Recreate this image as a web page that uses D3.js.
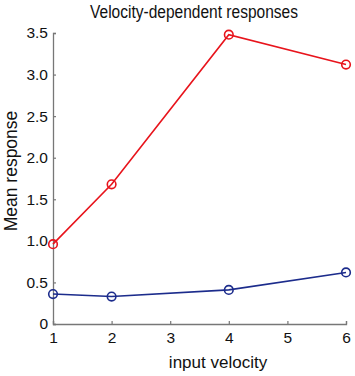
<!DOCTYPE html>
<html>
<head>
<meta charset="utf-8">
<script src="https://cdn.jsdelivr.net/npm/d3@7"></script>
<style>
  body { margin: 0; background: #fff; }
  text { font-family: "Liberation Sans", Arial, sans-serif; fill: #111; }
</style>
</head>
<body>
<div id="visualization"></div>
<script>
const velocities = [1, 2, 4, 6];
const redSeries = [0.96, 1.68, 3.48, 3.12];
const blueSeries = [0.36, 0.33, 0.41, 0.62];
const xTicks = [1, 2, 3, 4, 5, 6];
const yTicks = [0, 0.5, 1.0, 1.5, 2.0, 2.5, 3.0, 3.5];

const width = 355;
const height = 376;
const margin = {top: 33, bottom: 52, right: 9, left: 53};

const svg = d3.select("#visualization").append("svg")
  .attr("width", width)
  .attr("height", height);

const x = d3.scaleLinear()
  .domain([1, 6])
  .range([margin.left, width - margin.right]);

const y = d3.scaleLinear()
  .domain([0, 3.5])
  .range([height - margin.bottom, margin.top]);

// axes, MATLAB style: ticks inward
const xAxis = svg.append("g")
  .attr("transform", `translate(0,${height - margin.bottom})`)
  .call(d3.axisBottom(x).tickValues(xTicks).tickSize(-3).tickPadding(6).tickFormat(d3.format("d")));

const yAxis = svg.append("g")
  .attr("transform", `translate(${margin.left},0)`)
  .call(d3.axisLeft(y).tickValues(yTicks).tickSize(-3).tickPadding(5)
    .tickFormat(d => d === 0 ? "0" : d3.format(".1f")(d)));

[xAxis, yAxis].forEach(g => {
  g.select(".domain").attr("stroke", "#777").attr("stroke-width", 1.3);
  g.selectAll(".tick line").attr("stroke", "#777").attr("stroke-width", 1.2);
  g.selectAll(".tick text").attr("font-size", 15.5).attr("fill", "#111")
    .attr("font-family", "Liberation Sans, Arial, sans-serif");
});
xAxis.selectAll(".tick text").attr("dy", "0.85em");

const line = d3.line()
  .x((d, i) => x(velocities[i]))
  .y(d => y(d));

const series = [
  {values: redSeries, colour: "#e8141c"},
  {values: blueSeries, colour: "#1c2c8c"}
];

series.forEach(s => {
  svg.append("path")
    .datum(s.values)
    .attr("fill", "none")
    .attr("stroke", s.colour)
    .attr("stroke-width", 1.6)
    .attr("d", line);

  svg.append("g").selectAll("circle")
    .data(s.values)
    .join("circle")
    .attr("cx", (d, i) => x(velocities[i]))
    .attr("cy", d => y(d))
    .attr("r", 4.3)
    .attr("fill", "none")
    .attr("stroke", s.colour)
    .attr("stroke-width", 1.6);
});

// title and labels
svg.append("text")
  .attr("x", 194)
  .attr("y", 17.5)
  .attr("text-anchor", "middle")
  .attr("font-size", 18)
  .attr("textLength", 208)
  .attr("lengthAdjust", "spacingAndGlyphs")
  .text("Velocity-dependent responses");

svg.append("text")
  .attr("x", 218)
  .attr("y", 368)
  .attr("text-anchor", "middle")
  .attr("font-size", 17)
  .text("input velocity");

svg.append("text")
  .attr("transform", "translate(17,171) rotate(-90)")
  .attr("text-anchor", "middle")
  .attr("font-size", 17.5)
  .text("Mean response");
</script>
</body>
</html>
